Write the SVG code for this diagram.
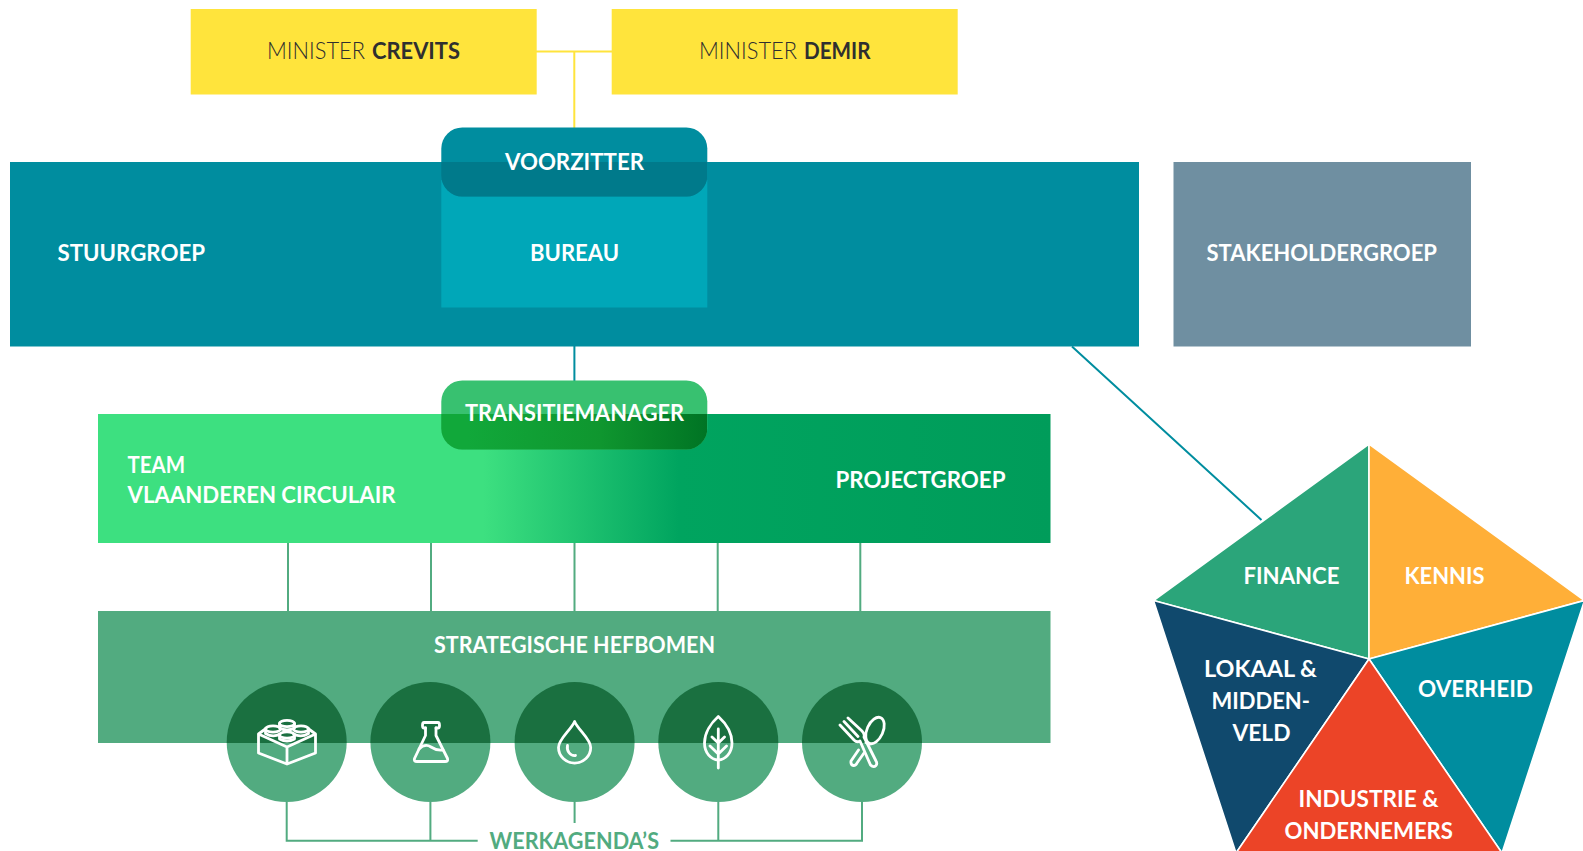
<svg xmlns="http://www.w3.org/2000/svg" width="1583" height="851" viewBox="0 0 1583 851">
<style>
text{font-family:"Lato","Liberation Sans",sans-serif;font-weight:700;fill:#fff;font-size:22.5px}
.dark{fill:#2f2f2f}.thin{font-weight:300}
.ic{fill:none;stroke:#fff;stroke-width:2.800;stroke-linecap:round;stroke-linejoin:round}
.conn{fill:none;stroke-width:2}
.c{fill:#52ab80}
.ct{fill:#1a7040}
.seg{stroke:#fff;stroke-width:1.600}
</style>
<defs>
<linearGradient id="teamGrad" gradientUnits="userSpaceOnUse" x1="97" y1="0" x2="1051" y2="0">
<stop offset="0.405" stop-color="#3de080"/><stop offset="0.61" stop-color="#00a45f"/><stop offset="1" stop-color="#009c5a"/>
</linearGradient>
<linearGradient id="pillGrad" gradientUnits="userSpaceOnUse" x1="441" y1="0" x2="707" y2="0">
<stop offset="0.1" stop-color="#11a83a"/><stop offset="0.6" stop-color="#0f962f"/><stop offset="1" stop-color="#007424"/>
</linearGradient>
<clipPath id="vzClip"><rect x="441" y="162" width="266" height="40"/></clipPath>
<clipPath id="tmClip"><rect x="441" y="414" width="266" height="40"/></clipPath>
<clipPath id="hefClip"><rect x="97" y="611" width="954" height="132"/></clipPath>
<clipPath id="pageClip"><rect x="0" y="0" width="1583" height="851"/></clipPath>
</defs>
<g id="connectors">
<path class="conn" stroke="#ffe43c" d="M536 51.500H612M574.300 51.500V128"/>
<path class="conn" stroke="#008d9f" stroke-width="2.400" d="M574.400 346V381M1072 346.500L1261.500 520"/>
<path class="conn" stroke="#52ab80" d="M288 543V611M431 543V611M574.500 543V611M717.700 543V611M860.300 543V611"/>
<path class="conn" stroke="#52ab80" stroke-width="2.400" d="M574.600 802V823M286.700 802V840.700H477.700M430.400 802V840.700M670.500 840.700H862V802M718.300 802V840.700"/>
</g>
<g id="minister-crevits">
<rect x="190.700" y="9" width="346" height="85.500" fill="#ffe43c"/>
<text class="dark" y="59"><tspan class="thin" x="267" textLength="98" lengthAdjust="spacingAndGlyphs">MINISTER</tspan><tspan x="372" textLength="88" lengthAdjust="spacingAndGlyphs">CREVITS</tspan></text>
</g>
<g id="minister-demir">
<rect x="611.700" y="9" width="346" height="85.500" fill="#ffe43c"/>
<text class="dark" y="59"><tspan class="thin" x="699" textLength="98" lengthAdjust="spacingAndGlyphs">MINISTER</tspan><tspan x="804" textLength="66.500" lengthAdjust="spacingAndGlyphs">DEMIR</tspan></text>
</g>
<g id="stuurgroep">
<rect x="10" y="162" width="1129" height="184.500" fill="#008d9f"/>
<text x="57.500" y="261" textLength="147.500" lengthAdjust="spacingAndGlyphs">STUURGROEP</text>
</g>
<g id="bureau">
<rect x="441.300" y="180" width="266" height="127.500" fill="#00a7b8"/>
<text x="530" y="261" textLength="89" lengthAdjust="spacingAndGlyphs">BUREAU</text>
</g>
<g id="voorzitter">
<rect x="441.300" y="127.500" width="266" height="69" rx="21" fill="#008d9f"/>
<rect x="441.300" y="127.500" width="266" height="69" rx="21" fill="#007a8b" clip-path="url(#vzClip)"/>
<text x="505" y="169.500" textLength="139" lengthAdjust="spacingAndGlyphs">VOORZITTER</text>
</g>
<g id="stakeholdergroep">
<rect x="1173.500" y="162" width="297.500" height="184.500" fill="#6f8fa1"/>
<text x="1206.500" y="261" textLength="230.500" lengthAdjust="spacingAndGlyphs">STAKEHOLDERGROEP</text>
</g>
<g id="team">
<rect x="98" y="414" width="952.500" height="129" fill="url(#teamGrad)"/>
<text x="127.500" y="472.500" textLength="57.500" lengthAdjust="spacingAndGlyphs">TEAM</text>
<text x="127.500" y="503" textLength="268" lengthAdjust="spacingAndGlyphs">VLAANDEREN CIRCULAIR</text>
<text x="835.500" y="487.500" textLength="170" lengthAdjust="spacingAndGlyphs">PROJECTGROEP</text>
</g>
<g id="transitiemanager">
<rect x="441.300" y="380.500" width="266" height="69" rx="21" fill="#38c170"/>
<rect x="441.300" y="380.500" width="266" height="69" rx="21" fill="url(#pillGrad)" clip-path="url(#tmClip)"/>
<text x="465" y="420.500" textLength="219" lengthAdjust="spacingAndGlyphs">TRANSITIEMANAGER</text>
</g>
<g id="strategische-hefbomen">
<rect x="98" y="611" width="952.500" height="132" fill="#52ab80"/>
<text x="434" y="652.500" textLength="281" lengthAdjust="spacingAndGlyphs">STRATEGISCHE HEFBOMEN</text>
</g>
<g id="hefboom-1">
<circle class="c" cx="286.700" cy="742" r="60"/><circle class="ct" cx="286.700" cy="742" r="60" clip-path="url(#hefClip)"/>
<g class="ic">
<path d="M266 728.500L258.500 734V753L287 764L315.500 753V734L308 728.500M258.500 734L287 747L315.500 734M287 747V764"/>
<ellipse cx="273" cy="729" rx="7.500" ry="3.200"/><path d="M265.500 729V733.500Q273 738 280 734"/>
<ellipse cx="301" cy="729" rx="7.500" ry="3.200"/><path d="M293.500 734Q301 738 308.500 733.500V729"/>
<ellipse cx="287" cy="723.500" rx="7.500" ry="3.200"/><path d="M279.500 723.500V728M294.500 723.500V728M279.500 728Q287 732 294.500 728"/>
<ellipse cx="287" cy="735" rx="7.500" ry="3.200"/><path d="M279.500 735V739M294.500 735V739M279.500 739Q287 743 294.500 739"/>
</g>
</g>
<g id="hefboom-2">
<circle class="c" cx="430.400" cy="742" r="60"/><circle class="ct" cx="430.400" cy="742" r="60" clip-path="url(#hefClip)"/>
<g class="ic">
<path d="M425.500 728V735.500L414.500 758.500Q413.500 761.500 417 761.500H445Q448.500 761.500 447.500 758.500L436 735.500V728"/>
<path d="M425.500 728H424Q422.500 728 422.500 725.500Q422.500 722.500 424 722.500H438Q439.500 722.500 439.500 725.500Q439.500 728 438 728H436"/>
<path d="M419 749Q425 743 431 747T443 750"/>
</g>
</g>
<g id="hefboom-3">
<circle class="c" cx="574.600" cy="742" r="60"/><circle class="ct" cx="574.600" cy="742" r="60" clip-path="url(#hefClip)"/>
<g class="ic">
<path d="M574.600 721.500C571 730 558.500 739 558.500 747.500A16 15.500 0 0 0 590.700 747.500C590.700 739 578.200 730 574.600 721.500Z"/>
<path d="M567.500 745.500C566.500 751 570 756 575.500 755.500"/>
</g>
</g>
<g id="hefboom-4">
<circle class="c" cx="718.300" cy="742" r="60"/><circle class="ct" cx="718.300" cy="742" r="60" clip-path="url(#hefClip)"/>
<g class="ic">
<path d="M718.300 716.500C711 723 704.500 733 704.500 743C704.500 753 711 759.500 718.300 760C725.500 759.500 732 753 732 743C732 733 725.500 723 718.300 716.500Z"/>
<path d="M718.300 729V768M712 737L718.300 743L724.500 737M710 746L718.300 754L726.500 746"/>
</g>
</g>
<g id="hefboom-5">
<circle class="c" cx="862" cy="742" r="60"/><circle class="ct" cx="862" cy="742" r="60" clip-path="url(#hefClip)"/>
<g class="ic">
<path d="M840 725L854 740Q857 743 860 741L870.500 765Q873.500 768 876 765.500Q877.500 763.500 876 761L864 737Q865 734 862 731L848 718M844 721.500L858 736.500"/>
<ellipse cx="875" cy="730.500" rx="8" ry="14" transform="rotate(24 875 730.500)"/>
<path d="M866 742.500L870 744M858.500 750L851 761Q850.500 765 853.500 765.500Q856 765.500 857 763L864 753"/>
</g>
</g>
<g id="werkagendas">
<text x="489.500" y="849" textLength="169.500" lengthAdjust="spacingAndGlyphs" style="fill:#52ab80">WERKAGENDA’S</text>
</g>
<g id="pentagon" clip-path="url(#pageClip)">
<g id="finance">
<polygon class="seg" points="1369,444 1153.500,600.500 1369,659" fill="#2ba57a"/>
<text x="1243.500" y="584" textLength="96" lengthAdjust="spacingAndGlyphs">FINANCE</text>
</g>
<g id="kennis">
<polygon class="seg" points="1369,444 1584.500,600.500 1369,659" fill="#ffaf38"/>
<text x="1404.500" y="584" textLength="80" lengthAdjust="spacingAndGlyphs">KENNIS</text>
</g>
<g id="overheid">
<polygon class="seg" points="1584.500,600.500 1369,659 1502,853" fill="#008d9f"/>
<text x="1418" y="696.500" textLength="115" lengthAdjust="spacingAndGlyphs">OVERHEID</text>
</g>
<g id="lokaal">
<polygon class="seg" points="1153.500,600.500 1369,659 1236,853" fill="#10496d"/>
<text x="1204" y="676.500" textLength="113" lengthAdjust="spacingAndGlyphs">LOKAAL &amp;</text>
<text x="1211.500" y="708.500" textLength="98.500" lengthAdjust="spacingAndGlyphs">MIDDEN-</text>
<text x="1232.500" y="740.500" textLength="58" lengthAdjust="spacingAndGlyphs">VELD</text>
</g>
<g id="industrie">
<polygon class="seg" points="1369,659 1502,853 1236,853" fill="#ec4427"/>
<text x="1298.500" y="807" textLength="140" lengthAdjust="spacingAndGlyphs">INDUSTRIE &amp;</text>
<text x="1284.500" y="839" textLength="168.500" lengthAdjust="spacingAndGlyphs">ONDERNEMERS</text>
</g>
</g>
</svg>
